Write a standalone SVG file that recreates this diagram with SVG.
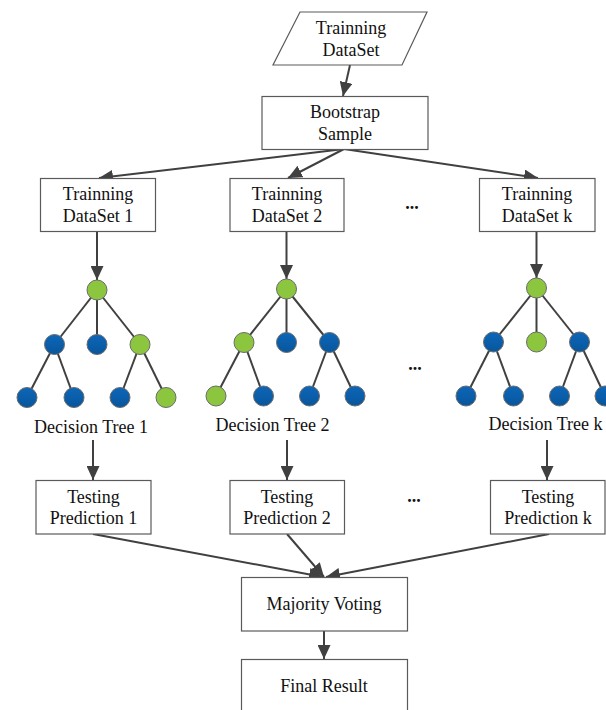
<svg xmlns="http://www.w3.org/2000/svg" width="606" height="710" viewBox="0 0 606 710">
<defs>
<marker id="ah" markerUnits="userSpaceOnUse" markerWidth="15" markerHeight="13" refX="14" refY="6.5" orient="auto">
<path d="M0,0 L14,6.5 L0,13 Z" fill="#404040"/>
</marker>
<linearGradient id="gb" x1="0" y1="0" x2="0" y2="1">
<stop offset="0" stop-color="#0D66B8"/>
<stop offset="1" stop-color="#08569C"/>
</linearGradient>
</defs>
<style>
.box{fill:#fff;stroke:#5a5a5a;stroke-width:1.2}
.t{font-family:"Liberation Serif","Times New Roman",serif;font-size:18px;fill:#111;text-anchor:middle}
.c{stroke:#404040;stroke-width:2;fill:none}
.e{stroke:#404040;stroke-width:2}
.g{fill:#8CC63F;stroke:#6b6b6b;stroke-width:1}
.b{fill:url(#gb);stroke:#6b6b6b;stroke-width:1}
</style>
<rect width="606" height="710" fill="#fff"/>

<g id="connectors">
<line class="c" x1="350" y1="65" x2="343" y2="96" marker-end="url(#ah)"/>
<line class="c" x1="344" y1="149" x2="99" y2="178" marker-end="url(#ah)"/>
<line class="c" x1="344" y1="149" x2="288" y2="178" marker-end="url(#ah)"/>
<line class="c" x1="344" y1="149" x2="538" y2="178" marker-end="url(#ah)"/>
<line class="c" x1="97" y1="232" x2="97" y2="280" marker-end="url(#ah)"/>
<line class="c" x1="286.5" y1="232" x2="286.5" y2="279" marker-end="url(#ah)"/>
<line class="c" x1="536.5" y1="232" x2="536.5" y2="278" marker-end="url(#ah)"/>
<line class="c" x1="93" y1="440" x2="93" y2="480" marker-end="url(#ah)"/>
<line class="c" x1="287" y1="440" x2="287" y2="480" marker-end="url(#ah)"/>
<line class="c" x1="547" y1="440" x2="547" y2="480" marker-end="url(#ah)"/>
<line class="c" x1="93" y1="534" x2="323" y2="577" marker-end="url(#ah)"/>
<line class="c" x1="287" y1="534" x2="324" y2="577" marker-end="url(#ah)"/>
<line class="c" x1="549" y1="534" x2="326" y2="577" marker-end="url(#ah)"/>
<line class="c" x1="324" y1="631" x2="324" y2="659" marker-end="url(#ah)"/>
</g>

<g id="training-dataset">
<polygon class="box" points="300,12 427,12 402,65 273,65"/>
<text class="t" x="351" y="34">Trainning</text>
<text class="t" x="351" y="56">DataSet</text>
</g>

<g id="bootstrap-sample">
<rect class="box" x="262" y="96.5" width="166" height="53"/>
<text class="t" x="345" y="118">Bootstrap</text>
<text class="t" x="345" y="140">Sample</text>
</g>

<g id="training-dataset-1">
<rect class="box" x="40.5" y="178.5" width="115" height="53"/>
<text class="t" x="98" y="200">Trainning</text>
<text class="t" x="98" y="222">DataSet 1</text>
</g>
<g id="training-dataset-2">
<rect class="box" x="230" y="178.5" width="114" height="53"/>
<text class="t" x="287" y="200">Trainning</text>
<text class="t" x="287" y="222">DataSet 2</text>
</g>
<g id="training-dataset-k">
<rect class="box" x="479.5" y="178.5" width="115.5" height="53"/>
<text class="t" x="537" y="200">Trainning</text>
<text class="t" x="537" y="222">DataSet k</text>
</g>
<text class="t" x="412" y="209" font-weight="bold">...</text>

<g id="decision-tree-1">
<g class="e">
<line x1="97" y1="290" x2="54.5" y2="344.5"/>
<line x1="97" y1="290" x2="97" y2="344.5"/>
<line x1="97" y1="290" x2="140" y2="344.5"/>
<line x1="54.5" y1="344.5" x2="27" y2="397.5"/>
<line x1="54.5" y1="344.5" x2="74" y2="397.5"/>
<line x1="140" y1="344.5" x2="120" y2="397.5"/>
<line x1="140" y1="344.5" x2="166" y2="397.5"/>
</g>
<circle class="g" cx="97" cy="290" r="10"/>
<circle class="b" cx="54.5" cy="344.5" r="10"/>
<circle class="b" cx="97" cy="344.5" r="10"/>
<circle class="g" cx="140" cy="344.5" r="10"/>
<circle class="b" cx="27" cy="397.5" r="10"/>
<circle class="b" cx="74" cy="397.5" r="10"/>
<circle class="b" cx="120" cy="397.5" r="10"/>
<circle class="g" cx="166" cy="397.5" r="10"/>
<text class="t" x="91" y="433">Decision Tree 1</text>
</g>

<g id="decision-tree-2">
<g class="e">
<line x1="286.5" y1="289" x2="244" y2="342.5"/>
<line x1="286.5" y1="289" x2="286.5" y2="342.5"/>
<line x1="286.5" y1="289" x2="329.5" y2="342.5"/>
<line x1="244" y1="342.5" x2="216" y2="396"/>
<line x1="244" y1="342.5" x2="263.5" y2="396"/>
<line x1="329.5" y1="342.5" x2="309.5" y2="396"/>
<line x1="329.5" y1="342.5" x2="355" y2="396"/>
</g>
<circle class="g" cx="286.5" cy="289" r="10"/>
<circle class="g" cx="244" cy="342.5" r="10"/>
<circle class="b" cx="286.5" cy="342.5" r="10"/>
<circle class="b" cx="329.5" cy="342.5" r="10"/>
<circle class="g" cx="216" cy="396" r="10"/>
<circle class="b" cx="263.5" cy="396" r="10"/>
<circle class="b" cx="309.5" cy="396" r="10"/>
<circle class="b" cx="355" cy="396" r="10"/>
<text class="t" x="272.5" y="431">Decision Tree 2</text>
</g>

<text class="t" x="415" y="370" font-weight="bold">...</text>

<g id="decision-tree-k">
<g class="e">
<line x1="536.5" y1="288" x2="493.5" y2="342"/>
<line x1="536.5" y1="288" x2="536.5" y2="342"/>
<line x1="536.5" y1="288" x2="579.5" y2="342"/>
<line x1="493.5" y1="342" x2="466" y2="396"/>
<line x1="493.5" y1="342" x2="513.5" y2="396"/>
<line x1="579.5" y1="342" x2="559.5" y2="396"/>
<line x1="579.5" y1="342" x2="605" y2="396"/>
</g>
<circle class="g" cx="536.5" cy="288" r="10"/>
<circle class="b" cx="493.5" cy="342" r="10"/>
<circle class="g" cx="536.5" cy="342" r="10"/>
<circle class="b" cx="579.5" cy="342" r="10"/>
<circle class="b" cx="466" cy="396" r="10"/>
<circle class="b" cx="513.5" cy="396" r="10"/>
<circle class="b" cx="559.5" cy="396" r="10"/>
<circle class="b" cx="605" cy="396" r="10"/>
<text class="t" x="545.5" y="430">Decision Tree k</text>
</g>

<g id="testing-prediction-1">
<rect class="box" x="36" y="480.5" width="115" height="53.5"/>
<text class="t" x="93.5" y="503">Testing</text>
<text class="t" x="93.5" y="524">Prediction 1</text>
</g>
<g id="testing-prediction-2">
<rect class="box" x="230" y="480.5" width="114.5" height="53.5"/>
<text class="t" x="287" y="503">Testing</text>
<text class="t" x="287" y="524">Prediction 2</text>
</g>
<g id="testing-prediction-k">
<rect class="box" x="490.5" y="480.5" width="114.5" height="53.5"/>
<text class="t" x="548" y="503">Testing</text>
<text class="t" x="548" y="524">Prediction k</text>
</g>
<text class="t" x="414" y="502" font-weight="bold">...</text>

<g id="majority-voting">
<rect class="box" x="241.5" y="577.5" width="166" height="53.5"/>
<text class="t" x="324" y="610">Majority Voting</text>
</g>

<g id="final-result">
<rect class="box" x="241.5" y="659.5" width="166" height="60"/>
<text class="t" x="324" y="692">Final Result</text>
</g>
</svg>
